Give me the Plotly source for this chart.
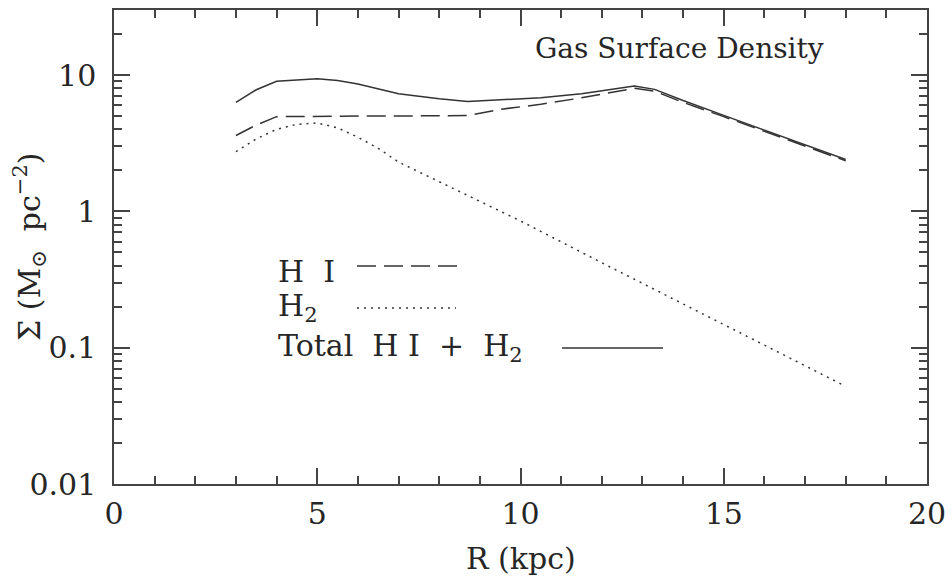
import plotly.graph_objects as go

# Data
R_hi = [3, 3.5, 4, 5, 6, 7, 8, 8.7, 9.5, 10.5, 11.5, 12.8, 13.3, 14, 15, 16, 17, 18]
sigma_hi = [3.6, 4.3, 4.95, 5.0, 5.0, 5.0, 5.0, 5.05, 5.6, 6.1, 6.8, 8.0, 7.6, 6.3, 4.95, 3.85, 3.0, 2.35]

R_h2 = [3, 3.5, 4, 4.5, 5, 5.5, 6, 6.5, 7, 8, 9, 10, 12, 14, 16, 18]
sigma_h2 = [2.74, 3.4, 4.0, 4.35, 4.45, 4.1, 3.5, 2.9, 2.3, 1.65, 1.2, 0.85, 0.42, 0.21, 0.105, 0.052]

R_tot = [3, 3.5, 4, 5, 5.5, 6, 7, 8, 8.7, 9.5, 10.5, 11.5, 12.8, 13.3, 14, 15, 16, 17, 18]
sigma_tot = [6.3, 7.8, 9.0, 9.4, 9.1, 8.6, 7.3, 6.7, 6.4, 6.55, 6.8, 7.3, 8.3, 7.85, 6.5, 5.06, 3.94, 3.07, 2.4]

y_tickvals = [0.01, 0.1, 1, 10]
y_ticktext = ["0.01", "0.1", "1", "10"]
x_tickvals = [0, 5, 10, 15, 20]

FONT = "DejaVu Serif"
INK = "#262626"
LINE = "#333333"
S = "\u00a0"

fig = go.Figure()
fig.add_trace(go.Scatter(x=R_hi, y=sigma_hi, mode="lines",
                         line=dict(color=LINE, width=1.5, dash="19px,8px")))
fig.add_trace(go.Scatter(x=R_h2, y=sigma_h2, mode="lines",
                         line=dict(color=LINE, width=1.5, dash="2px,5px")))
fig.add_trace(go.Scatter(x=R_tot, y=sigma_tot, mode="lines",
                         line=dict(color=LINE, width=1.5)))

L, R, T, B = 114, 25, 10, 98
W, H = 952, 582
pw, ph = W - L - R, H - T - B

def px(x):
    return (x - L) / pw

def py(y):
    return (H - B - y) / ph

shapes = [
    dict(type="line", xref="paper", yref="paper", x0=px(357), x1=px(460), y0=py(266), y1=py(266),
         line=dict(color=LINE, width=1.5, dash="19px,8px")),
    dict(type="line", xref="paper", yref="paper", x0=px(357), x1=px(456), y0=py(308), y1=py(308),
         line=dict(color=LINE, width=1.5, dash="2px,5px")),
    dict(type="line", xref="paper", yref="paper", x0=px(562), x1=px(663), y0=py(348), y1=py(348),
         line=dict(color=LINE, width=1.5)),
]

annotations = [
    dict(text="Gas" + S + "Surface" + S + "Density", xref="paper", yref="paper", x=px(826), y=py(48),
         xanchor="right", yanchor="middle", showarrow=False, font=dict(family=FONT, size=28, color=INK)),
    dict(text="H" + S * 2 + "I", xref="paper", yref="paper", x=px(276), y=py(271),
         xanchor="left", yanchor="middle", showarrow=False, font=dict(family=FONT, size=30, color=INK)),
    dict(text="H<sub>2</sub>", xref="paper", yref="paper", x=px(276), y=py(307),
         xanchor="left", yanchor="middle", showarrow=False, font=dict(family=FONT, size=30, color=INK)),
    dict(text="Total" + S * 2 + "H" + S + "I" + S * 2 + "+" + S * 2 + "H<sub>2</sub>", xref="paper", yref="paper",
         x=px(276), y=py(347),
         xanchor="left", yanchor="middle", showarrow=False, font=dict(family=FONT, size=30, color=INK)),
    dict(text="R" + S + "(kpc)", xref="paper", yref="paper", x=px(520.5), y=py(558),
         xanchor="center", yanchor="middle", showarrow=False, font=dict(family=FONT, size=30, color=INK)),
    dict(text="Σ" + S + "(M<sub>⊙</sub>" + S * 2 + "pc<sup>−2</sup>)", xref="paper", yref="paper",
         x=px(29), y=py(247), textangle=-90,
         xanchor="center", yanchor="middle", showarrow=False, font=dict(family=FONT, size=30, color=INK)),
]

fig.update_layout(
    width=W, height=H,
    margin=dict(l=L, r=R, t=T, b=B),
    paper_bgcolor="white", plot_bgcolor="white",
    showlegend=False,
    font=dict(family=FONT, color=INK, size=30),
    shapes=shapes, annotations=annotations,
    xaxis=dict(range=[0, 20], tickvals=x_tickvals, ticks="inside", ticklen=16, tickwidth=1.5,
               tickcolor="#444", showline=True, linecolor="#444", linewidth=1.5, mirror="ticks",
               showgrid=False, zeroline=False, automargin=False,
               minor=dict(dtick=1, ticks="inside", ticklen=8, tickwidth=1.5, tickcolor="#444", showgrid=False),
               tickfont=dict(family=FONT, size=30, color=INK), ticklabelstandoff=2),
    yaxis=dict(type="log", range=[-2, 1.477], tickvals=y_tickvals, ticktext=y_ticktext,
               ticks="inside", ticklen=16, tickwidth=1.5, tickcolor="#444",
               showline=True, linecolor="#444", linewidth=1.5, mirror="ticks",
               showgrid=False, zeroline=False, automargin=False,
               minor=dict(dtick="D1", ticks="inside", ticklen=8, tickwidth=1.5, tickcolor="#444", showgrid=False),
               tickfont=dict(family=FONT, size=30, color=INK), ticklabelstandoff=10),
)

fig.write_html("out.html")
